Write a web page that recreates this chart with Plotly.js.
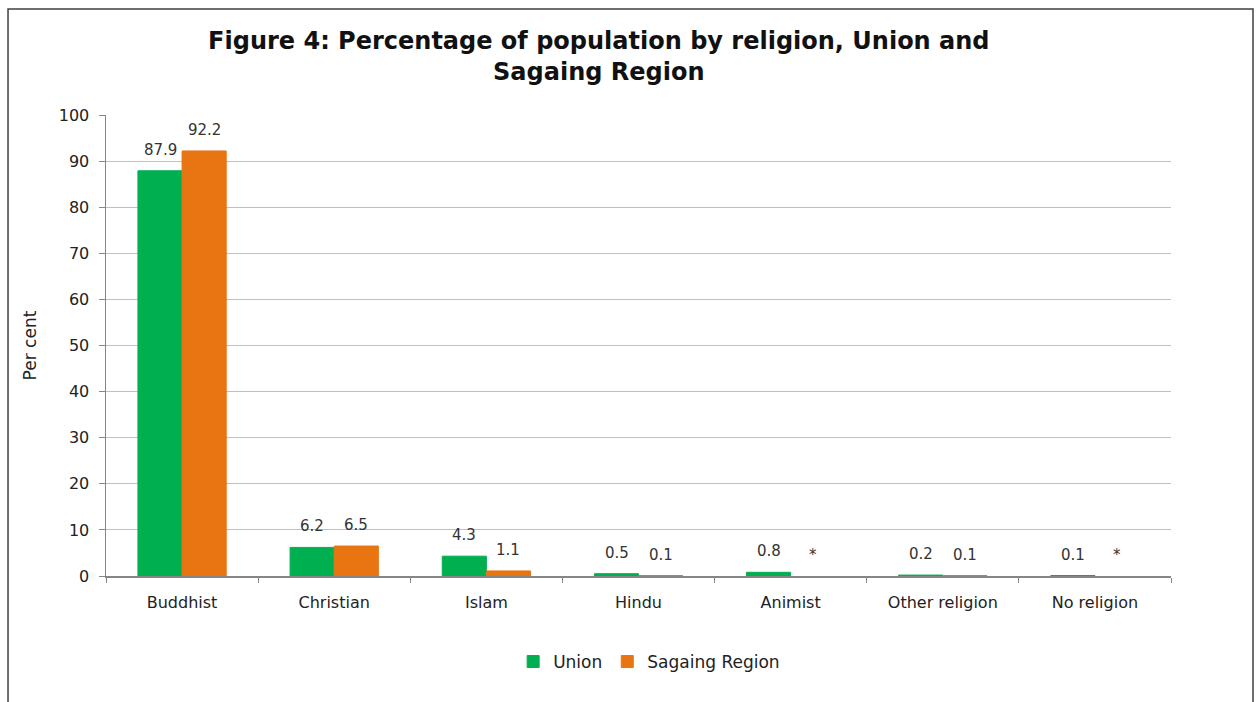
<!DOCTYPE html>
<html><head><meta charset="utf-8">
<script src="https://cdn.plot.ly/plotly-3.0.1.min.js"></script>
<style>html,body{margin:0;padding:0;background:#fff}#chart{width:1258px;height:702px}</style>
</head><body><div id="chart"></div>
<script>
const categories = ["Buddhist","Christian","Islam","Hindu","Animist","Other religion","No religion"];
const unionValues = [87.9, 6.2, 4.3, 0.5, 0.8, 0.2, 0.1];
const sagaingValues = [92.2, 6.5, 1.1, 0.1, 0, 0.1, 0];
const unionLabels = ["87.9","6.2","4.3","0.5","0.8","0.2","0.1"];
const sagaingLabels = ["92.2","6.5","1.1","0.1","*","0.1","*"];
const yTicks = [0,10,20,30,40,50,60,70,80,90,100];

const FONT = "DejaVu Sans, Verdana, sans-serif";
const labelFont = {family:FONT, size:15, color:"#333"};
const lineW = vals => vals.map(v => v > 0 ? 1 : 0);
const traces = [
  {type:"bar", name:"Union", x:categories, y:unionValues,
   marker:{color:"#00b050", line:{color:"#00b050", width:lineW(unionValues)}}, hoverinfo:"x+y"},
  {type:"bar", name:"Sagaing Region", x:categories, y:sagaingValues,
   marker:{color:"#e87511", line:{color:"#e87511", width:lineW(sagaingValues)}}, hoverinfo:"x+y"}
];
const annotations = [];
categories.forEach((c, i) => {
  annotations.push({x:c, y:unionValues[i], xref:"x", yref:"y", text:unionLabels[i],
    showarrow:false, xshift:-22, yshift:10, yanchor:"bottom", font:labelFont});
  annotations.push({x:c, y:sagaingValues[i], xref:"x", yref:"y", text:sagaingLabels[i],
    showarrow:false, xshift:22, yshift:10, yanchor:"bottom", font:labelFont});
});
const layout = {
  width:1258, height:702,
  margin:{l:106, r:87, t:115, b:126},
  paper_bgcolor:"#fff", plot_bgcolor:"#fff",
  font:{family:FONT, size:16, color:"#222"},
  title:{text:"<b>Figure 4: Percentage of population by religion, Union and<br>Sagaing Region</b>",
    x:0.476, xref:"container", xanchor:"center", y:0.93, yref:"container", yanchor:"top",
    font:{family:FONT, size:24, color:"#111"}},
  barmode:"group", bargap:0.42, bargroupgap:0,
  xaxis:{type:"category", tickson:"boundaries", ticks:"outside", ticklen:5, tickcolor:"#868686",
    showline:true, linecolor:"#868686", linewidth:1.5, showgrid:false, ticklabelstandoff:11,
    tickfont:{family:FONT, size:16, color:"#222"}},
  yaxis:{range:[0,100], tickvals:yTicks, ticks:"outside", ticklen:6, tickcolor:"#868686",
    showline:true, linecolor:"#868686", linewidth:1.5, showgrid:true, gridcolor:"#c0c0c0", gridwidth:1,
    zeroline:false, ticklabelstandoff:6, tickfont:{family:FONT, size:16, color:"#222"},
    title:{text:"Per cent", font:{family:FONT, size:17, color:"#222"}, standoff:18}},
  showlegend:true,
  legend:{orientation:"h", x:0.51, xanchor:"center", xref:"paper", y:0.057, yanchor:"middle", yref:"container",
    font:{family:FONT, size:17, color:"#222"}, traceorder:"normal"},
  annotations: annotations,
  shapes:[{type:"rect", xref:"paper", yref:"paper", x0:-0.092, x1:1.077, y0:-0.3, y1:1.23,
    line:{color:"#404040", width:1.5}, fillcolor:"rgba(0,0,0,0)", layer:"below"}]
};
Plotly.newPlot("chart", traces, layout, {displayModeBar:false, staticPlot:true});
</script></body></html>
